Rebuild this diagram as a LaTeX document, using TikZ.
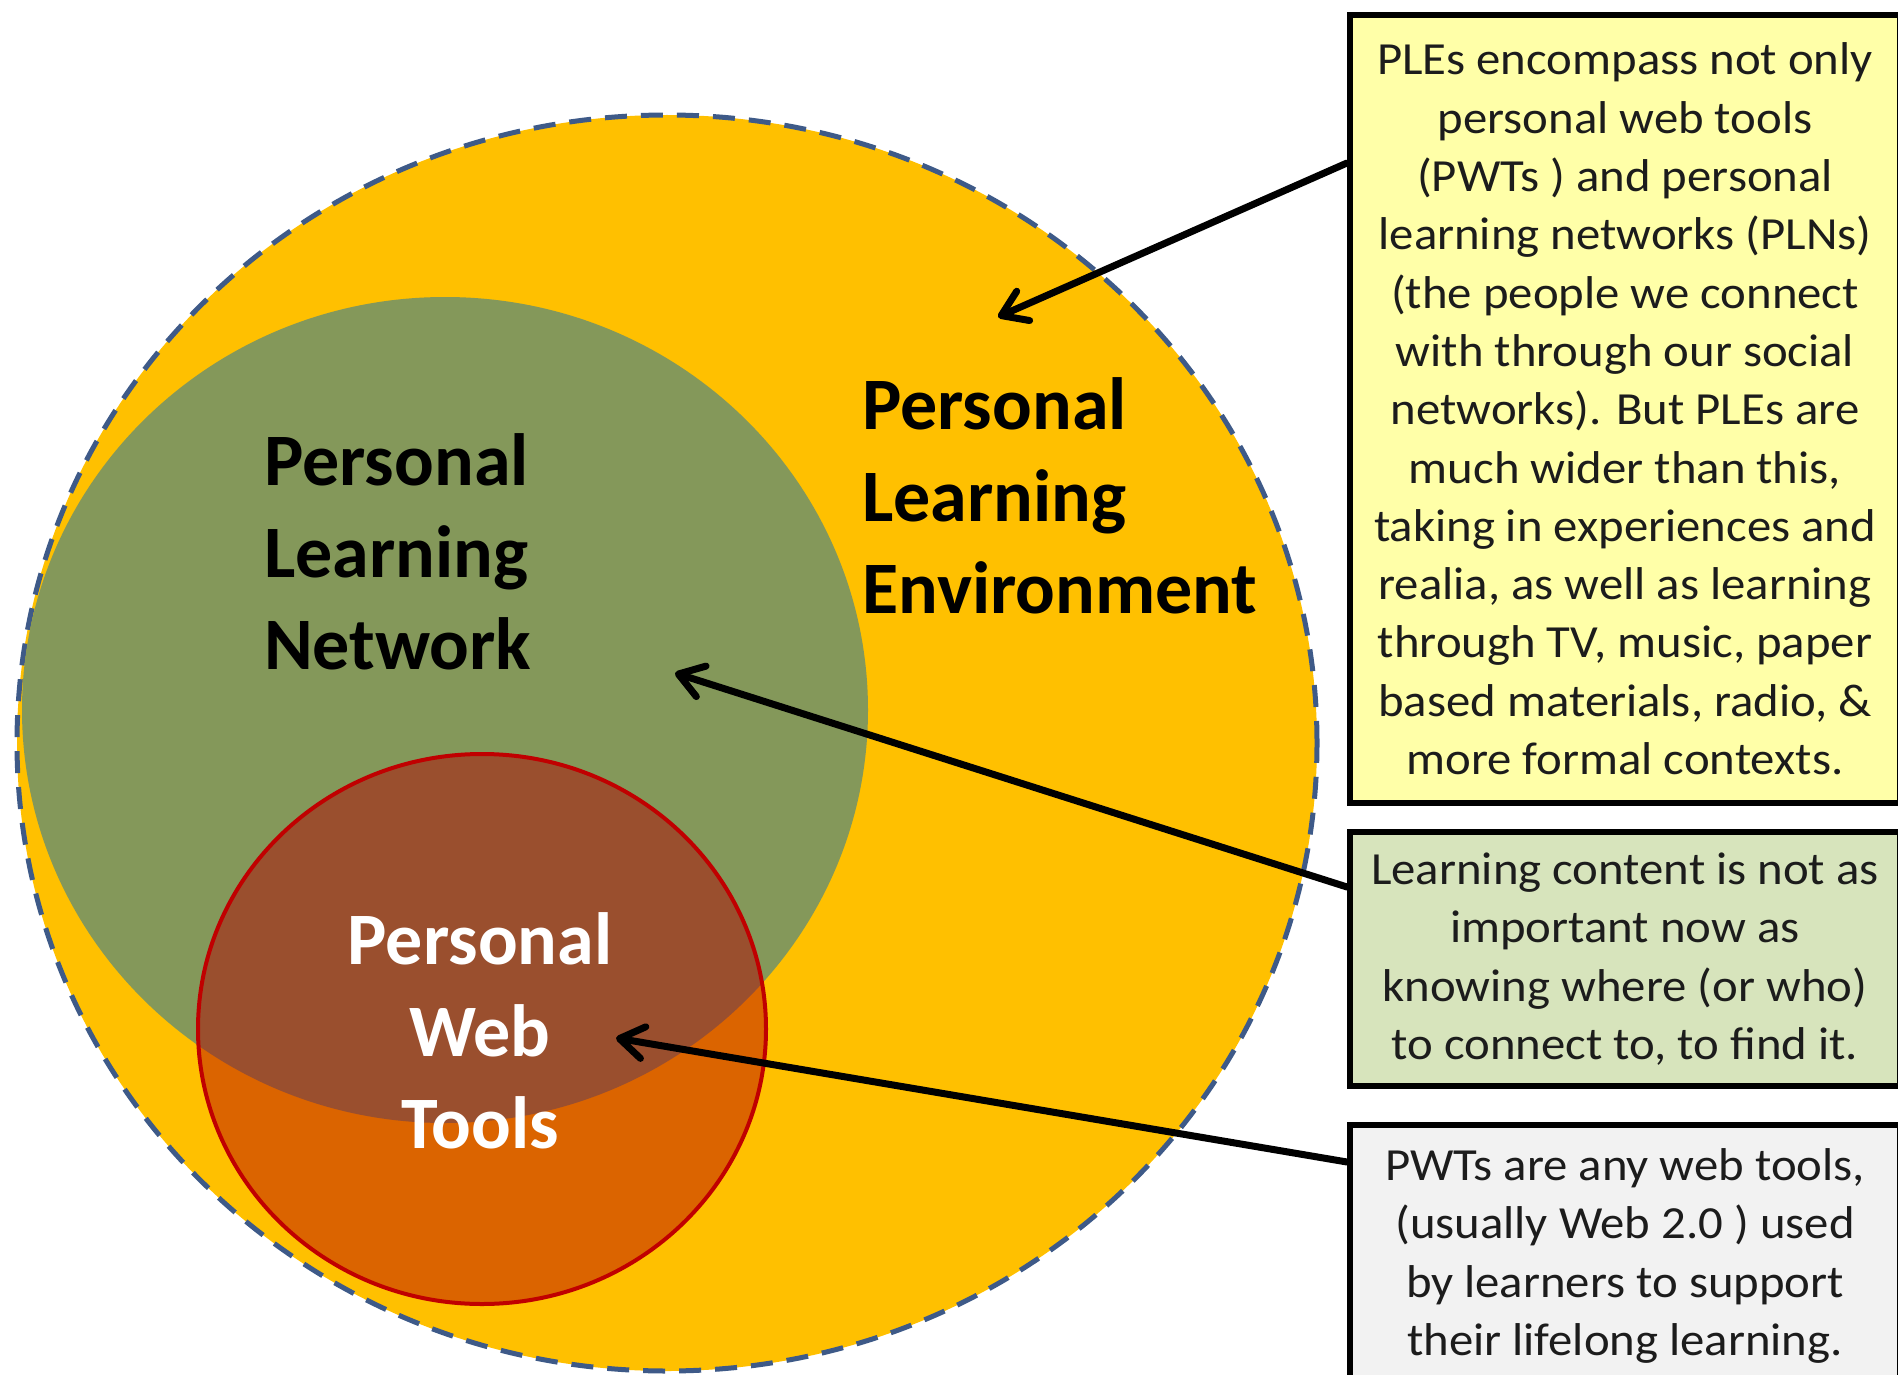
\documentclass[tikz,border=0pt]{standalone}
\usepackage{fontspec}
\setmainfont{Carlito}
\newfontfamily\boxfont[FakeStretch=1.06]{Carlito}
\newfontfamily\lblfont{Carlito}
\usetikzlibrary{arrows.meta,shapes.geometric}
\definecolor{plegold}{HTML}{FFC000}
\definecolor{plngreen}{HTML}{84985A}
\definecolor{pwtred}{RGB}{180,0,0}
\definecolor{pwtedge}{HTML}{C00000}
\definecolor{dashblue}{HTML}{3E5A88}
\definecolor{boxyellow}{HTML}{FFFFA8}
\definecolor{boxgreen}{HTML}{D7E4BC}
\definecolor{boxgray}{HTML}{F2F2F2}
\definecolor{txt}{HTML}{1C1C1C}
\begin{document}
\begin{tikzpicture}[x=1pt,y=-1pt,
  lbl/.style={font=\lblfont\bfseries\fontsize{74}{92}\selectfont, inner sep=0pt},
  note/.style={draw=black, line width=6pt, font=\boxfont\fontsize{46}{58.3}\selectfont, text=txt, align=center, inner sep=0pt, anchor=north west},
  arr/.style={line width=7pt, line cap=round, -{Straight Barb[length=24pt,width=32pt,line cap=round,line join=round]}},
  ellipsenode/.style={ellipse, inner sep=0pt},
  ]
\fill[white] (0,0) rectangle (1898,1375);
\useasboundingbox (0,0) rectangle (1898,1375);
% circles
\node[ellipsenode, fill=plegold, draw=dashblue, line width=5pt, dash pattern=on 22pt off 14pt,
      minimum width=1300pt, minimum height=1256pt] (ple) at (667,743) {};
\node[ellipsenode, fill=plngreen, minimum width=846pt, minimum height=826pt] (pln) at (445,710) {};
\node[ellipsenode, fill=pwtred, fill opacity=0.48, draw=pwtedge, draw opacity=1, line width=4pt,
      minimum width=568pt, minimum height=550pt] (pwt) at (482,1029) {};
% labels
\node[lbl, anchor=west, align=left, text=black] (plnlbl) at (264,552) {Personal\\Learning\\Network};
\node[lbl, anchor=west, align=left, text=black] (plelbl) at (862,496) {Personal\\Learning\\Environment};
\node[lbl, align=center, text=white] (pwtlbl) at (480,1031) {Personal\\Web\\Tools};
% boxes
\node[note, fill=boxyellow, minimum width=550pt, minimum height=788pt] (yb) at (1347,12)
 {PLEs encompass not only\\personal web tools\\(PWTs ) and personal\\learning networks (PLNs)\\(the people we connect\\with through our social\\networks). But PLEs are\\much wider than this,\\taking in experiences and\\realia, as well as learning\\through TV, music, paper\\based materials, radio, \&\\more formal contexts.};
\node[note, fill=boxgreen, minimum width=550pt, minimum height=254pt] (gb) at (1347,829)
 {Learning content is not as\\important now as\\knowing where (or who)\\to connect to, to find it.};
\node[note, fill=boxgray, minimum width=550pt, minimum height=262pt] (wb) at (1347,1122)
 {PWTs are any web tools,\\(usually Web 2.0 ) used\\by learners to support\\their lifelong learning.};
% arrows
\coordinate (t1) at (998,317);
\coordinate (t2) at (675,673);
\coordinate (t3) at (616,1038);
\draw[arr] ([yshift=-151pt]yb.north west) -- (t1);
\draw[arr] ([yshift=-58pt]gb.north west) -- (t2);
\draw[arr] ([yshift=-40pt]wb.north west) -- (t3);
\end{tikzpicture}
\end{document}
